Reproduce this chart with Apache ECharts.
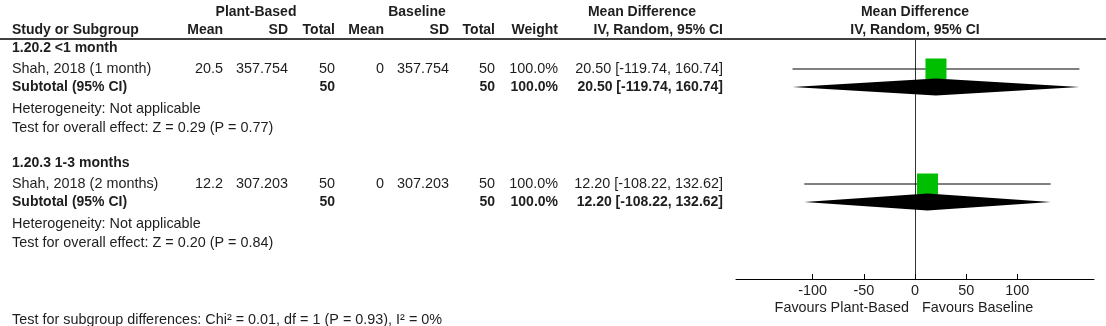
<!DOCTYPE html>
<html>
<head>
<meta charset="utf-8">
<script src="https://cdn.jsdelivr.net/npm/echarts@6/dist/echarts.min.js"></script>
<style>
  html, body { margin: 0; padding: 0; background: #fff; }
  #chart { width: 1106px; height: 326px; }
</style>
</head>
<body>
<div id="chart"></div>
<script>
// ---- Data ----
const subgroups = ['1.20.2 <1 month', '1.20.3 1-3 months'];
const studies = ['Shah, 2018 (1 month)', 'Shah, 2018 (2 months)'];
const pbMean = [20.5, 12.2];
const pbSD = [357.754, 307.203];
const pbTotal = [50, 50];
const blMean = [0, 0];
const blSD = [357.754, 307.203];
const blTotal = [50, 50];
const weight = [100.0, 100.0];
const md = [20.50, 12.20];
const ciLow = [-119.74, -108.22];
const ciHigh = [160.74, 132.62];
const heterogeneity = ['Heterogeneity: Not applicable', 'Heterogeneity: Not applicable'];
const overallEffect = ['Test for overall effect: Z = 0.29 (P = 0.77)', 'Test for overall effect: Z = 0.20 (P = 0.84)'];
const subgroupTest = 'Test for subgroup differences: Chi\u00B2 = 0.01, df = 1 (P = 0.93), I\u00B2 = 0%';
const xTicks = [-100, -50, 0, 50, 100];
const favours = ['Favours Plant-Based', 'Favours Baseline'];

// ---- Layout ----
const FONT = '"Liberation Sans", Arial, sans-serif';
const FS = 14.4;      // regular text
const FSB = 14;       // bold text
const TXT = '#1e1e1e';
const GRID_TOP = 40, GRID_H = 239;
// vertical offsets (px below the header rule) of the lines inside one subgroup block
const ROW = { group: 8.5, study: 29, subtotal: 47, het: 69.5, test: 88 };
const BLOCK = [0, 115];
// right edges of the table columns
const COL = { name: 12, pbMean: 223, pbSD: 288, pbTotal: 335, blMean: 384, blSD: 449, blTotal: 495, weight: 558, ci: 723 };

const ciText = (i) => md[i].toFixed(2) + ' [' + ciLow[i].toFixed(2) + ', ' + ciHigh[i].toFixed(2) + ']';
const cell = (x, text, align, bold) => ({ x, text: String(text), align: align || 'right', bold: !!bold });

// table lines: header rows, subgroup blocks, footer
const lines = [];
lines.push({ y: -28, cells: [
  cell(256, 'Plant-Based', 'center', 1), cell(417, 'Baseline', 'center', 1),
  cell(642, 'Mean Difference', 'center', 1), cell(915, 'Mean Difference', 'center', 1)
]});
lines.push({ y: -10, cells: [
  cell(COL.name, 'Study or Subgroup', 'left', 1),
  cell(COL.pbMean, 'Mean', 'right', 1), cell(COL.pbSD, 'SD', 'right', 1), cell(COL.pbTotal, 'Total', 'right', 1),
  cell(COL.blMean, 'Mean', 'right', 1), cell(COL.blSD, 'SD', 'right', 1), cell(COL.blTotal, 'Total', 'right', 1),
  cell(COL.weight, 'Weight', 'right', 1), cell(COL.ci, 'IV, Random, 95% CI', 'right', 1),
  cell(915, 'IV, Random, 95% CI', 'center', 1)
]});
subgroups.forEach((g, i) => {
  const b = BLOCK[i];
  lines.push({ y: b + ROW.group, cells: [cell(COL.name, g, 'left', 1)] });
  lines.push({ y: b + ROW.study, cells: [
    cell(COL.name, studies[i], 'left'),
    cell(COL.pbMean, pbMean[i]), cell(COL.pbSD, pbSD[i].toFixed(3)), cell(COL.pbTotal, pbTotal[i]),
    cell(COL.blMean, blMean[i]), cell(COL.blSD, blSD[i].toFixed(3)), cell(COL.blTotal, blTotal[i]),
    cell(COL.weight, weight[i].toFixed(1) + '%'), cell(COL.ci, ciText(i))
  ]});
  lines.push({ y: b + ROW.subtotal, cells: [
    cell(COL.name, 'Subtotal (95% CI)', 'left', 1),
    cell(COL.pbTotal, pbTotal[i], 'right', 1), cell(COL.blTotal, blTotal[i], 'right', 1),
    cell(COL.weight, weight[i].toFixed(1) + '%', 'right', 1), cell(COL.ci, ciText(i), 'right', 1)
  ]});
  lines.push({ y: b + ROW.het, cells: [cell(COL.name, heterogeneity[i], 'left')] });
  lines.push({ y: b + ROW.test, cells: [cell(COL.name, overallEffect[i], 'left')] });
});
lines.push({ y: 280.5, cells: [cell(COL.name, subgroupTest, 'left')] });

const studyData = md.map((m, i) => [m, ciLow[i], ciHigh[i], BLOCK[i] + ROW.study, weight[i]]);
const pooledData = md.map((m, i) => [m, ciLow[i], ciHigh[i], BLOCK[i] + ROW.subtotal]);

const chart = echarts.init(document.getElementById('chart'), null, { renderer: 'canvas' });
chart.setOption({
  animation: false,
  backgroundColor: '#fff',
  textStyle: { fontFamily: FONT },
  grid: { left: 736, top: GRID_TOP, width: 358, height: GRID_H, containLabel: false },
  xAxis: {
    type: 'value', min: -175, max: 175, position: 'bottom',
    splitLine: { show: false },
    axisLine: { onZero: false, lineStyle: { color: '#000', width: 1 } },
    axisTick: { inside: true, length: 5, customValues: xTicks, lineStyle: { color: '#000' } },
    axisLabel: { customValues: xTicks, margin: 5, fontSize: FS, color: TXT, fontFamily: FONT }
  },
  yAxis: {
    type: 'value', inverse: true, min: 0, max: GRID_H,
    axisLine: { show: true, onZero: true, lineStyle: { color: '#333', width: 1 } },
    axisTick: { show: false }, axisLabel: { show: false }, splitLine: { show: false }
  },
  graphic: [{
    type: 'line', shape: { x1: 0, y1: 39, x2: 1106, y2: 39 },
    style: { stroke: '#000', lineWidth: 1.5 }, silent: true
  }],
  series: [
    {
      // table text
      type: 'custom', clip: false, silent: true,
      data: lines.map(l => [0, l.y]),
      renderItem: (params, api) => {
        const y = api.coord([0, api.value(1)])[1];
        const l = lines[params.dataIndex];
        return {
          type: 'group',
          children: l.cells.map(c => ({
            type: 'text',
            style: {
              x: c.x, y: y, text: c.text, align: c.align, verticalAlign: 'middle',
              fill: TXT, font: c.bold ? ('bold ' + FSB + 'px ' + FONT) : (FS + 'px ' + FONT)
            }
          }))
        };
      }
    },
    {
      // favours labels under the axis
      type: 'custom', clip: false, silent: true,
      data: [[0, 268.5]],
      renderItem: (params, api) => {
        const p = api.coord([api.value(0), api.value(1)]);
        const f = FS + 'px ' + FONT;
        return {
          type: 'group',
          children: [
            { type: 'text', style: { x: p[0] - 6, y: p[1], text: favours[0], align: 'right', verticalAlign: 'middle', fill: TXT, font: f } },
            { type: 'text', style: { x: p[0] + 7, y: p[1], text: favours[1], align: 'left', verticalAlign: 'middle', fill: TXT, font: f } }
          ]
        };
      }
    },
    {
      // study estimates: CI line and weighted square
      type: 'custom', clip: false, silent: true,
      data: studyData,
      renderItem: (params, api) => {
        const yv = api.value(3);
        const c = api.coord([api.value(0), yv]);
        const lo = api.coord([api.value(1), yv]);
        const hi = api.coord([api.value(2), yv]);
        const s = 21 * Math.sqrt(api.value(4) / 100);
        return {
          type: 'group',
          children: [
            { type: 'line', shape: { x1: lo[0], y1: c[1], x2: hi[0], y2: c[1] }, style: { stroke: '#000', lineWidth: 1 } },
            { type: 'rect', shape: { x: c[0] - s / 2, y: c[1] - s / 2, width: s, height: s }, style: { fill: '#00bf00' } }
          ]
        };
      }
    },
    {
      // pooled estimates: diamonds
      type: 'custom', clip: false, silent: true,
      data: pooledData,
      renderItem: (params, api) => {
        const yv = api.value(3);
        const c = api.coord([api.value(0), yv]);
        const lo = api.coord([api.value(1), yv]);
        const hi = api.coord([api.value(2), yv]);
        const h = 8.5;
        return {
          type: 'polygon',
          shape: { points: [[lo[0], c[1]], [c[0], c[1] - h], [hi[0], c[1]], [c[0], c[1] + h]] },
          style: { fill: '#000' }
        };
      }
    }
  ]
});
</script>
</body>
</html>
